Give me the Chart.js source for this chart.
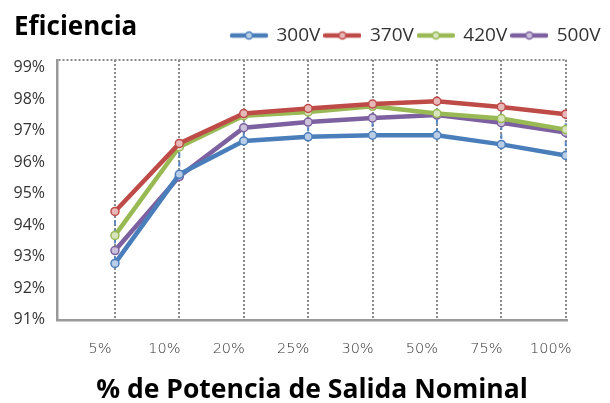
<!DOCTYPE html>
<html>
<head>
<meta charset="utf-8">
<script src="https://cdn.jsdelivr.net/npm/chart.js@4"></script>
<style>
  html, body { margin: 0; padding: 0; background: #fff; }
</style>
</head>
<body>
<canvas id="eficiencia" width="610" height="403"></canvas>
<script>
// data
const categories = ["5%", "10%", "20%", "25%", "30%", "50%", "75%", "100%"];
const seriesNames = ["300V", "370V", "420V", "500V"];
const v300 = [92.79, 95.62, 96.68, 96.81, 96.86, 96.86, 96.57, 96.22];
const v370 = [94.44, 96.60, 97.55, 97.71, 97.85, 97.94, 97.76, 97.53];
const v420 = [93.68, 96.49, 97.48, 97.60, 97.78, 97.55, 97.39, 97.04];
const v500 = [93.20, 95.55, 97.10, 97.28, 97.41, 97.50, 97.26, 96.95];
const yTicks = [91, 92, 93, 94, 95, 96, 97, 98, 99];

const colors = ["#4a7ebb", "#be4b48", "#98b954", "#7d60a0"];
const pointFills = ["#b9cde6", "#e6b8b7", "#d7e4bd", "#ccc1da"];
const allSeries = [v300, v370, v420, v500];

const yMax = 99.25;

// legend icon: thick line with a small circle
function legendIcon(color, fill) {
  const c = document.createElement("canvas");
  c.width = 38;
  c.height = 12;
  const g = c.getContext("2d");
  g.strokeStyle = color;
  g.lineWidth = 4.5;
  g.lineCap = "round";
  g.beginPath();
  g.moveTo(2, 6);
  g.lineTo(36, 6);
  g.stroke();
  g.fillStyle = fill;
  g.lineWidth = 1.5;
  g.beginPath();
  g.arc(19, 6, 3.5, 0, Math.PI * 2);
  g.fill();
  g.stroke();
  return c;
}

// high-low drop lines between the series at each category
const hiLo = [];
categories.forEach((c, i) => {
  const vals = allSeries.map((s) => s[i]);
  hiLo.push({ x: i, y: Math.max(...vals) });
  hiLo.push({ x: i, y: Math.min(...vals) });
  hiLo.push({ x: i, y: null });
});

const datasets = allSeries.map((values, k) => ({
  label: seriesNames[k],
  data: values.map((v, i) => ({ x: i, y: v })),
  borderColor: colors[k],
  backgroundColor: colors[k],
  borderWidth: 4.5,
  pointRadius: 4,
  pointBorderWidth: 1.5,
  pointBackgroundColor: pointFills[k],
  pointBorderColor: colors[k],
  tension: 0,
}));

datasets.push({
  label: "hilo",
  data: hiLo,
  borderColor: "rgba(79, 129, 189, 0.9)",
  borderWidth: 2,
  borderDash: [5, 4],
  pointRadius: 0,
  spanGaps: false,
  order: 5,
});

// move the legend to where the reference has it
const legendPlace = {
  id: "legendPlace",
  afterLayout(chart) {
    const lg = chart.legend;
    lg.left = 227;
    lg.right = 610;
    lg.top -= 5;
  },
};

const ctx = document.getElementById("eficiencia").getContext("2d");

new Chart(ctx, {
  type: "line",
  data: { datasets: datasets },
  plugins: [legendPlace],
  options: {
    responsive: false,
    animation: false,
    layout: { padding: { left: 14, right: 43, top: 0, bottom: 0 } },
    plugins: {
      tooltip: { enabled: false },
      title: {
        display: true,
        text: "Eficiencia",
        align: "start",
        color: "#000",
        font: { family: "Open Sans", size: 26, weight: "bold" },
        padding: { top: 12, bottom: -16.2 },
      },
      legend: {
        display: true,
        position: "top",
        align: "start",
        labels: {
          usePointStyle: true,
          pointStyleWidth: 36,
          padding: 4,
          color: "#333",
          font: { family: "Open Sans", size: 19 },
          filter: (item) => item.text !== "hilo",
          generateLabels: (chart) => {
            const items = Chart.defaults.plugins.legend.labels.generateLabels(chart);
            items.forEach((it) => {
              const k = seriesNames.indexOf(it.text);
              if (k >= 0) it.pointStyle = legendIcon(colors[k], pointFills[k]);
            });
            return items;
          },
        },
      },
    },
    scales: {
      x: {
        type: "linear",
        min: -0.9,
        max: 7.02,
        afterBuildTicks: (axis) => {
          axis.ticks = categories.map((c, i) => ({ value: i }));
        },
        ticks: {
          autoSkip: false,
          maxRotation: 0,
          padding: 21,
          labelOffset: -15,
          color: "#333",
          font: { family: "DejaVu Sans", size: 14.5, weight: 300 },
          callback: (v) => categories[v],
        },
        grid: {
          color: "#8a8a8a",
          lineWidth: 2,
          drawTicks: false,
        },
        border: { display: true, color: "#999", width: 2.5, dash: [2, 2] },
        title: {
          display: true,
          text: "% de Potencia de Salida Nominal",
          color: "#000",
          font: { family: "Open Sans", size: 26.5, weight: "bold" },
          padding: { top: -5, bottom: -3 },
        },
      },
      y: {
        min: 91,
        max: yMax,
        afterBuildTicks: (axis) => {
          axis.ticks = yTicks.concat([yMax]).map((v) => ({ value: v }));
        },
        afterFit: (axis) => {
          axis.width = 43;
        },
        ticks: {
          padding: 12,
          color: "#333",
          font: { family: "Open Sans", size: 16 },
          callback: (v) => (v === yMax ? "" : v + "%"),
        },
        grid: {
          color: (c) => (c.tick && c.tick.value === yMax ? "#8a8a8a" : "rgba(0,0,0,0)"),
          lineWidth: 2,
          drawTicks: false,
        },
        border: { display: true, color: "#999", width: 2.5, dash: [2, 2] },
      },
    },
  },
});
</script>
</body>
</html>
